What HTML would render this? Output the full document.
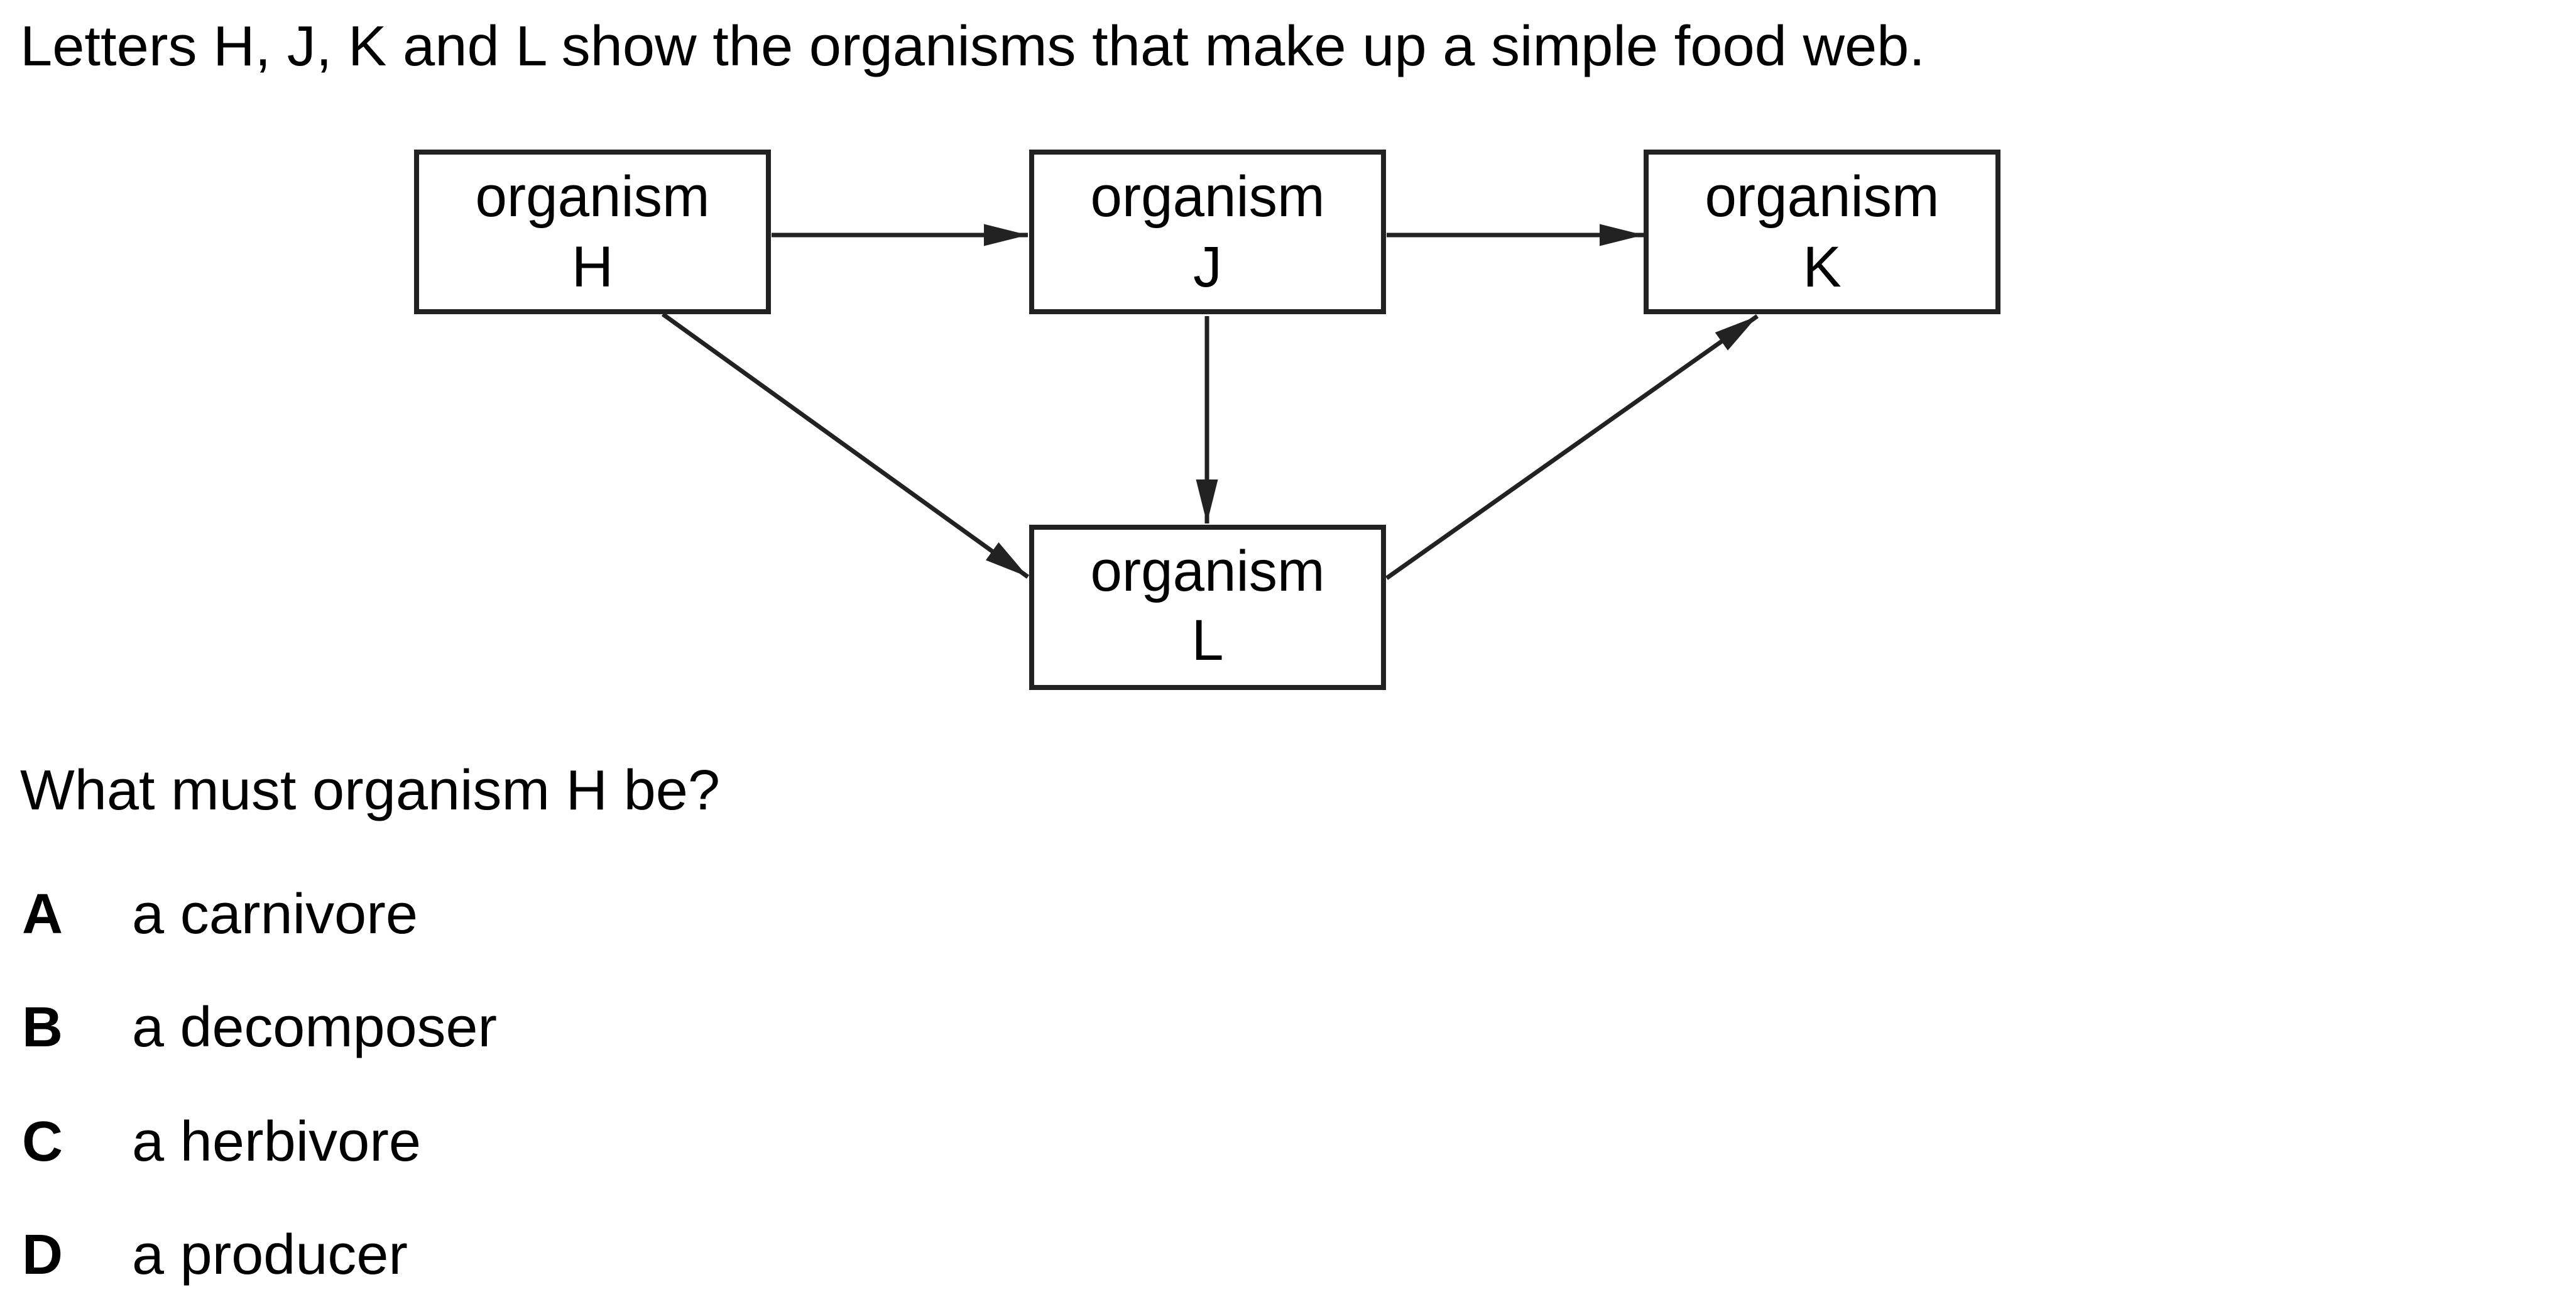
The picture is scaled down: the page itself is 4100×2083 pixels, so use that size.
<!DOCTYPE html>
<html><head><meta charset="utf-8"><style>
html,body{margin:0;padding:0;background:#fff;}
svg{display:block;font-family:"Liberation Sans",Arial,sans-serif;}
</style></head><body>
<svg width="4100" height="2083" viewBox="0 0 4100 2083">
<defs>
<marker id="ah" viewBox="0 0 10 10" refX="10" refY="5" markerWidth="10" markerHeight="5" markerUnits="strokeWidth" orient="auto" preserveAspectRatio="none">
<path d="M0,0 L10,5 L0,10 z" fill="#222"/>
</marker>
</defs>
<text x="32" y="104" font-size="90" textLength="3032" lengthAdjust="spacingAndGlyphs" fill="#000">Letters H, J, K and L show the organisms that make up a simple food web.</text>

<g stroke="#222" stroke-width="7" fill="none">
<line x1="1228" y1="374" x2="1636" y2="374" marker-end="url(#ah)"/>
<line x1="2207" y1="374" x2="2616" y2="374" marker-end="url(#ah)"/>
<line x1="1921" y1="503" x2="1921" y2="833" marker-end="url(#ah)"/>
<line x1="1055" y1="500" x2="1636" y2="918" marker-end="url(#ah)"/>
<line x1="2207" y1="920" x2="2797" y2="503" marker-end="url(#ah)"/>
</g>

<g>
<rect x="663" y="242" width="560" height="254" fill="#fff" stroke="#222" stroke-width="8"/>
<text x="943" y="344" font-size="92" text-anchor="middle" textLength="373" lengthAdjust="spacingAndGlyphs">organism</text>
<text x="943" y="456" font-size="92" text-anchor="middle">H</text>
</g>
<g>
<rect x="1642" y="242" width="560" height="254" fill="#fff" stroke="#222" stroke-width="8"/>
<text x="1922" y="344" font-size="92" text-anchor="middle" textLength="373" lengthAdjust="spacingAndGlyphs">organism</text>
<text x="1922" y="456" font-size="92" text-anchor="middle">J</text>
</g>
<g>
<rect x="2620" y="242" width="560" height="254" fill="#fff" stroke="#222" stroke-width="8"/>
<text x="2900" y="344" font-size="92" text-anchor="middle" textLength="373" lengthAdjust="spacingAndGlyphs">organism</text>
<text x="2900" y="456" font-size="92" text-anchor="middle">K</text>
</g>
<g>
<rect x="1642" y="839" width="560" height="255" fill="#fff" stroke="#222" stroke-width="8"/>
<text x="1922" y="940" font-size="92" text-anchor="middle" textLength="373" lengthAdjust="spacingAndGlyphs">organism</text>
<text x="1922" y="1050" font-size="92" text-anchor="middle">L</text>
</g>

<text x="32" y="1288" font-size="90" textLength="1114" lengthAdjust="spacingAndGlyphs">What must organism H be?</text>

<g>
<text x="35" y="1485" font-size="90" font-weight="bold">A</text>
<text x="210" y="1485" font-size="90" textLength="455" lengthAdjust="spacingAndGlyphs">a carnivore</text>
</g>
<g>
<text x="35" y="1665" font-size="90" font-weight="bold">B</text>
<text x="210" y="1665" font-size="90" textLength="581" lengthAdjust="spacingAndGlyphs">a decomposer</text>
</g>
<g>
<text x="35" y="1847" font-size="90" font-weight="bold">C</text>
<text x="210" y="1847" font-size="90" textLength="460" lengthAdjust="spacingAndGlyphs">a herbivore</text>
</g>
<g>
<text x="35" y="2027" font-size="90" font-weight="bold">D</text>
<text x="210" y="2027" font-size="90" textLength="439" lengthAdjust="spacingAndGlyphs">a producer</text>
</g>
</svg>
</body></html>
